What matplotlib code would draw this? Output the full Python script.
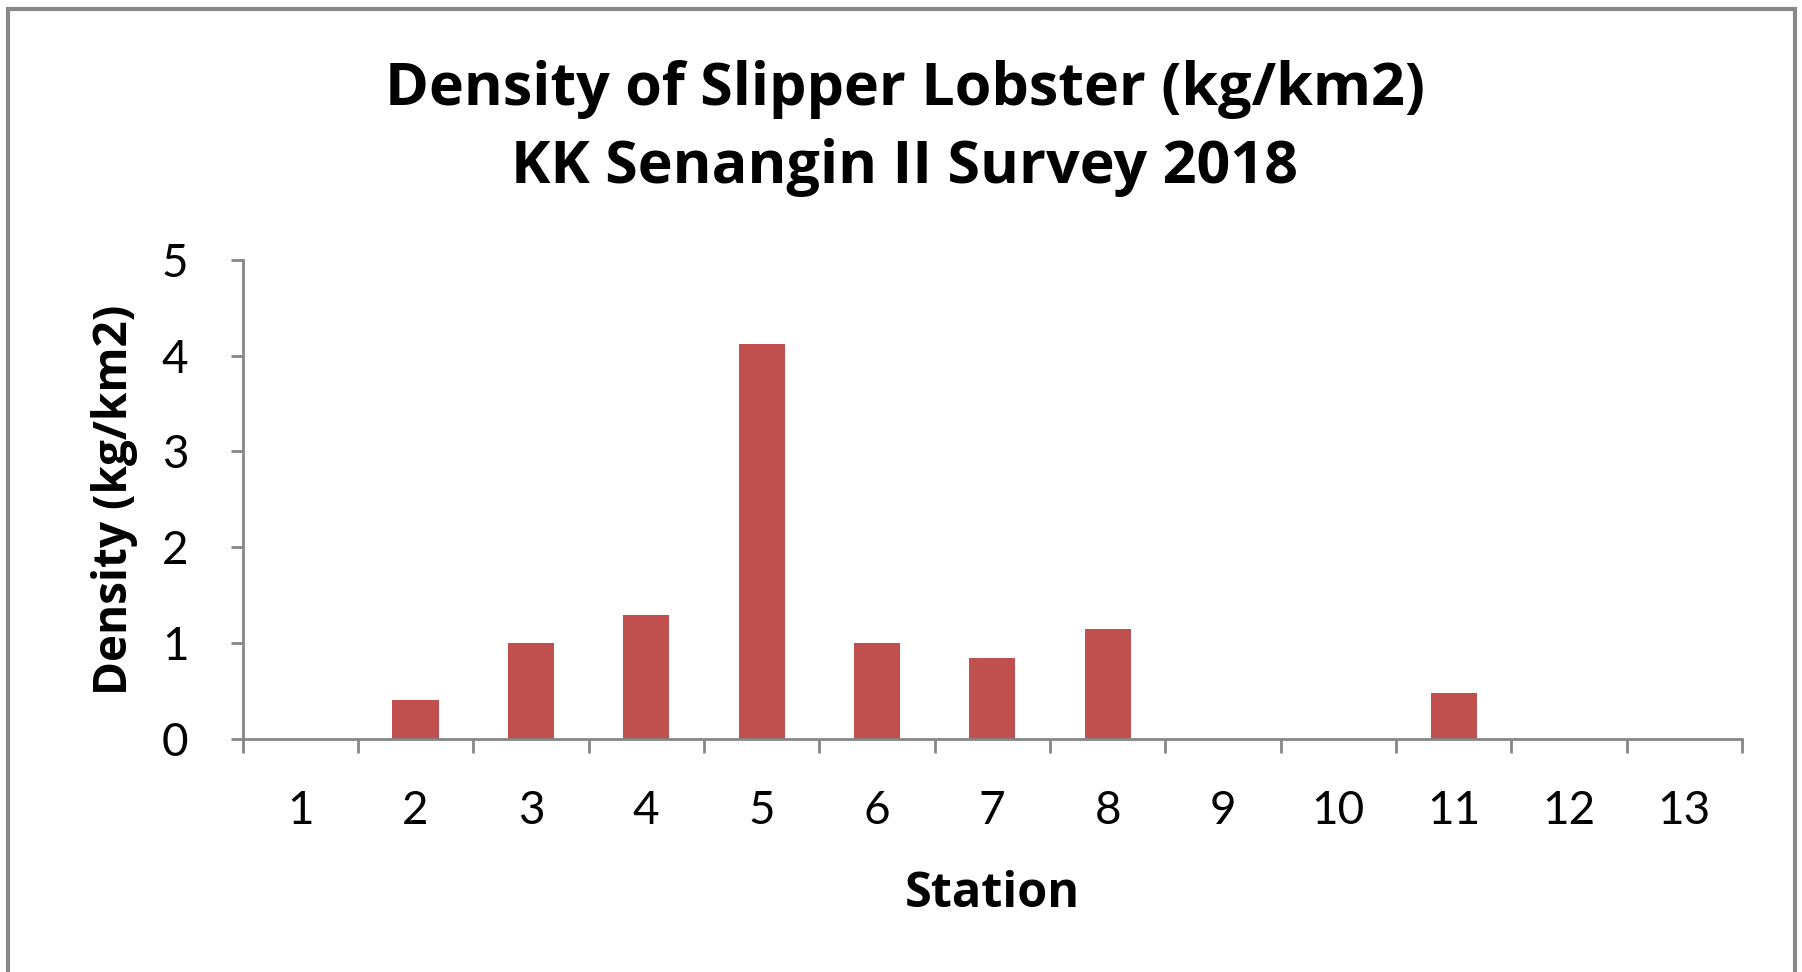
import matplotlib
matplotlib.use("Agg")
import matplotlib.pyplot as plt
from matplotlib.patches import Rectangle

# data
stations = list(range(1, 14))
density = [0, 0.41, 1.0, 1.29, 4.12, 1.0, 0.84, 1.15, 0, 0, 0.48, 0, 0]
y_ticks = [0, 1, 2, 3, 4, 5]

plt.rcParams['font.family'] = ['Lato', 'DejaVu Sans']
bold_font = ['Open Sans', 'DejaVu Sans']

fig = plt.figure(figsize=(18.02, 9.72), dpi=100)
ax = fig.add_axes([0.1346, 0.2397, 0.9667 - 0.1346, 0.7328 - 0.2397])

ax.bar(stations, density, width=0.4, color='#C0504D')

ax.set_xlim(0.5, 13.5)
ax.set_ylim(0, 5)

grey = '#868686'
for side in ['top', 'right']:
    ax.spines[side].set_visible(False)
for side in ['left', 'bottom']:
    ax.spines[side].set_color(grey)
    ax.spines[side].set_linewidth(2)

# y axis
ax.set_yticks(y_ticks)
ax.set_yticklabels([str(v) for v in y_ticks])
ax.tick_params(axis='y', direction='out', length=9, width=2, color=grey,
               labelsize=33, pad=30)

# x axis: labels at centres, tick marks at category boundaries
ax.set_xticks(stations)
ax.set_xticklabels([str(s) for s in stations])
ax.set_xticks([s - 0.5 for s in stations] + [13.5], minor=True)
ax.tick_params(axis='x', which='major', length=0, labelsize=33, pad=37)
ax.tick_params(axis='x', which='minor', direction='out', length=10, width=2, color=grey)

ax.set_xlabel('Station', fontsize=35, fontweight='bold', family=bold_font, labelpad=27)
ax.set_ylabel('Density (kg/km2)', fontsize=33, fontweight='bold', family=bold_font, labelpad=17)

fig.text(0.502, 0.868, 'Density of Slipper Lobster (kg/km2)\nKK Senangin II Survey 2018',
         ha='center', va='center', fontsize=42.7, fontweight='bold', family=bold_font,
         linespacing=1.42)

# outer chart border
fig.patches.append(Rectangle((8 / 1802, -0.05), (1795 - 8) / 1802, 1.05 - 9 / 972,
                             transform=fig.transFigure, fill=False,
                             edgecolor='#888888', linewidth=3))

fig.savefig('out.png', dpi=100)
